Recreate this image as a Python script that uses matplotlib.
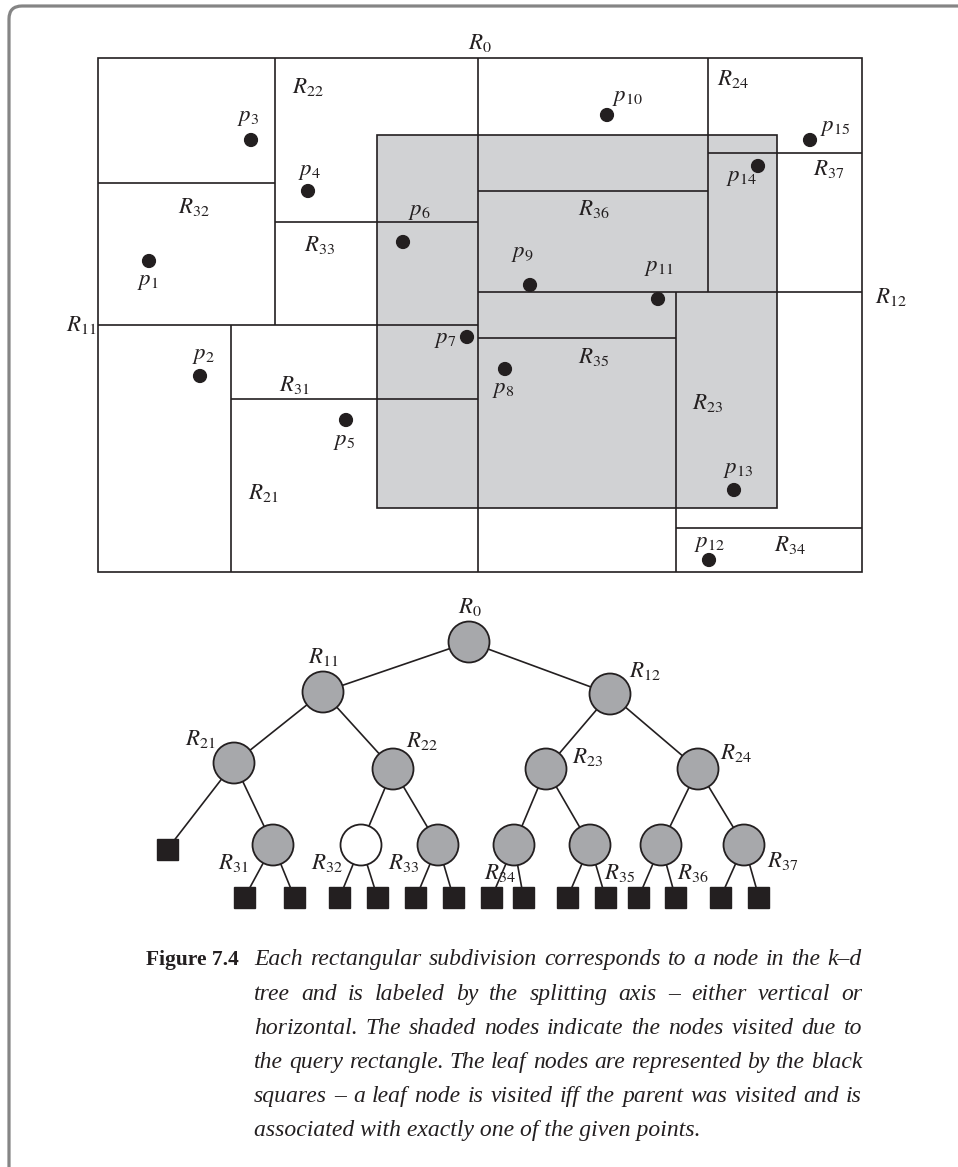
import matplotlib
matplotlib.use("Agg")
import matplotlib.pyplot as plt
from matplotlib.patches import Rectangle, Circle, PathPatch
from matplotlib.path import Path

plt.rcParams["mathtext.fontset"] = "stix"

W, H = 958, 1167

# ---- k-d subdivision (pixel coords, y down) ----
outer_box = (98, 58, 862, 572)
query_box = (377, 135, 777, 508)

split_names = ["R0", "R11", "R12", "R21", "R22", "R23", "R24",
               "R31", "R32", "R33", "R34", "R35", "R36", "R37"]
split_x0 = [478, 98, 478, 231, 275, 676, 708, 231, 98, 275, 676, 478, 478, 708]
split_y0 = [58, 325, 292, 325, 58, 292, 58, 399, 183, 222, 528, 338, 191, 153]
split_x1 = [478, 478, 862, 231, 275, 676, 708, 478, 275, 478, 862, 676, 708, 862]
split_y1 = [572, 325, 292, 572, 325, 572, 292, 399, 183, 222, 528, 338, 191, 153]

point_names = ["1", "2", "3", "4", "5", "6", "7", "8", "9", "10", "11", "12", "13", "14", "15"]
point_x = [149, 200, 251, 308, 346, 403, 467, 505, 530, 607, 658, 709, 734, 758, 810]
point_y = [261, 376, 140, 191, 420, 242, 337, 369, 285, 115, 299, 560, 490, 166, 140]
point_lx = [148, 203, 248, 309, 344, 419, 445, 503, 522, 627, 659, 709, 738, 741, 835]
point_ly = [281, 354, 116, 171, 441, 210, 339, 389, 253, 97, 267, 542, 468, 177, 127]

region_names = ["0", "11", "12", "21", "22", "23", "24",
                "31", "32", "33", "34", "35", "36", "37"]
region_lx = [480, 81, 891, 263, 308, 708, 733, 294, 194, 320, 790, 594, 594, 829]
region_ly = [43, 324, 296, 493, 86, 402, 78, 385, 207, 244, 544, 356, 208, 168]

# ---- tree ----
node_names = ["0", "11", "12", "21", "22", "23", "24",
              "31", "32", "33", "34", "35", "36", "37"]
node_x = [469, 323, 610, 234, 393, 546, 698, 273, 361, 438, 514, 590, 661, 744]
node_y = [642, 692, 694, 763, 769, 769, 769, 845, 845, 845, 845, 845, 845, 845]
node_parent = [-1, 0, 0, 1, 1, 2, 2, 3, 4, 4, 5, 5, 6, 6]
node_visited = [1, 1, 1, 1, 1, 1, 1, 1, 0, 1, 1, 1, 1, 1]
node_lx = [470, 323, 645, 200, 422, 588, 736, 233, 327, 404, 500, 620, 693, 783]
node_ly = [606, 657, 671, 739, 740, 757, 753, 862, 862, 862, 872, 873, 872, 861]

leaf_x = [167.5, 244.5, 294.5, 339.5, 377.5, 416, 453.5, 491.5, 523.5,
          567.5, 605.5, 638.5, 675.5, 720.5, 759]
leaf_y = [849, 897.5, 897.5, 897.5, 897.5, 897.5, 897.5, 897.5, 897.5,
          897.5, 897.5, 897.5, 897.5, 897.5, 897.5]
leaf_parent = [3, 7, 7, 8, 8, 9, 9, 10, 10, 11, 11, 12, 12, 13, 13]

caption_head = "Figure 7.4"
caption_lines = [
    "Each rectangular subdivision corresponds to a node in the k\u2013d",
    "tree and is labeled by the splitting axis \u2013 either vertical or",
    "horizontal. The shaded nodes indicate the nodes visited due to",
    "the query rectangle. The leaf nodes are represented by the black",
    "squares \u2013 a leaf node is visited iff the parent was visited and is",
    "associated with exactly one of the given points.",
]
caption_base = [965, 1000, 1034, 1068, 1102, 1136]

fig = plt.figure(figsize=(W / 100, H / 100), dpi=100)
ax = fig.add_axes([0, 0, 1, 1])
ax.set_xlim(0, W)
ax.set_ylim(H, 0)
ax.axis("off")

# page frame with rounded corner
frame = Path([(9, H), (9, 19), (9, 6), (22, 6), (W, 6)],
             [Path.MOVETO, Path.LINETO, Path.CURVE3, Path.CURVE3, Path.LINETO])
ax.add_patch(PathPatch(frame, fill=False, edgecolor="#858585", lw=2.3))

ink = "#231f20"
lw = 1.2
lab = 16.5

qx0, qy0, qx1, qy1 = query_box
ax.add_patch(Rectangle((qx0, qy0), qx1 - qx0, qy1 - qy0, facecolor="#d1d2d4",
                       edgecolor=ink, lw=lw, zorder=1))
ox0, oy0, ox1, oy1 = outer_box
ax.add_patch(Rectangle((ox0, oy0), ox1 - ox0, oy1 - oy0, fill=False,
                       edgecolor=ink, lw=lw, zorder=2))
for i in range(len(split_names)):
    ax.plot([split_x0[i], split_x1[i]], [split_y0[i], split_y1[i]],
            color=ink, lw=lw, zorder=2, solid_capstyle="butt")

for i in range(len(point_names)):
    ax.add_patch(Circle((point_x[i], point_y[i]), 6.4, color=ink, zorder=3))
    ax.text(point_lx[i], point_ly[i], "$p_{%s}$" % point_names[i],
            fontsize=lab, ha="center", va="center", color=ink)

for i in range(len(region_names)):
    ax.text(region_lx[i], region_ly[i], "$R_{%s}$" % region_names[i],
            fontsize=lab, ha="center", va="center", color=ink)

# tree edges
for i in range(len(node_names)):
    p = node_parent[i]
    if p >= 0:
        ax.plot([node_x[p], node_x[i]], [node_y[p], node_y[i]], color=ink, lw=lw, zorder=1)
for i in range(len(leaf_x)):
    p = leaf_parent[i]
    ax.plot([node_x[p], leaf_x[i]], [node_y[p], leaf_y[i]], color=ink, lw=lw, zorder=1)

for i in range(len(node_names)):
    fc = "#a7a8ab" if node_visited[i] else "white"
    ax.add_patch(Circle((node_x[i], node_y[i]), 20.5, facecolor=fc,
                        edgecolor=ink, lw=1.3, zorder=3))
    ax.text(node_lx[i], node_ly[i], "$R_{%s}$" % node_names[i],
            fontsize=lab, ha="center", va="center", color=ink, zorder=4)

for i in range(len(leaf_x)):
    ax.add_patch(Rectangle((leaf_x[i] - 10.5, leaf_y[i] - 10.5), 21, 21,
                           color=ink, zorder=3))

# caption, justified line by line
ax.text(146, caption_base[0], caption_head, fontsize=15.5, fontweight="bold",
        family="Liberation Serif", ha="left", va="baseline", color=ink)
renderer = fig.canvas.get_renderer()
cx0, cx1 = 254, 862
cap_kw = dict(fontsize=17, style="italic", family="Liberation Serif",
              ha="left", va="baseline", color=ink)
for j, line in enumerate(caption_lines):
    if j == len(caption_lines) - 1:
        ax.text(cx0, caption_base[j], line, **cap_kw)
        continue
    words = line.split(" ")
    texts = [ax.text(cx0, caption_base[j], w, **cap_kw) for w in words]
    widths = [t.get_window_extent(renderer).width for t in texts]
    gap = (cx1 - cx0 - sum(widths)) / (len(words) - 1)
    x = cx0
    for t, w in zip(texts, widths):
        t.set_x(x)
        x += w + gap

fig.savefig("out.png", dpi=100)
